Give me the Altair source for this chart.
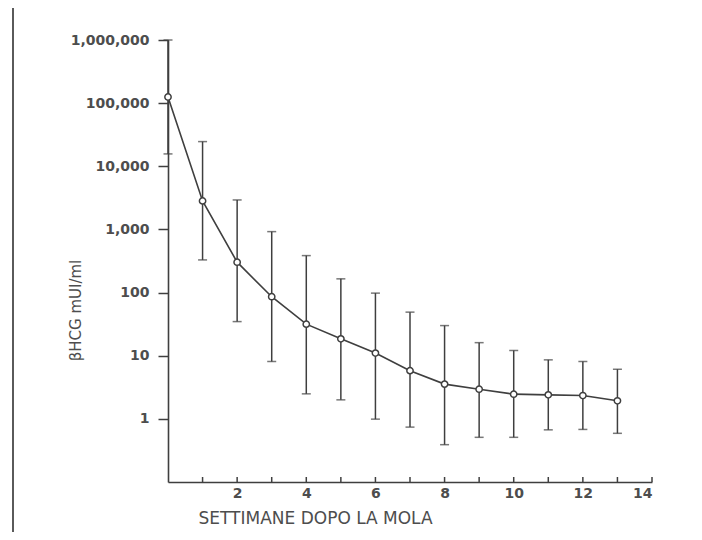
import altair as alt
import pandas as pd

weeks = list(range(0, 14))
mean_hcg = [125000, 2830, 303, 86, 31.6, 18.5, 11, 5.8, 3.55, 2.95, 2.46, 2.4, 2.34, 1.93]
upper_hcg = [1000000, 24600, 2930, 923, 385, 165, 98, 49, 30, 16.1, 12.1, 8.6, 8.1, 6.1]
lower_hcg = [15700, 329, 34.7, 8.1, 2.49, 2.0, 0.99, 0.74, 0.39, 0.51, 0.51, 0.67, 0.68, 0.59]
x_tick_weeks = list(range(1, 15))
x_label_weeks = [2, 4, 6, 8, 10, 12, 14]
y_tick_values = [1, 10, 100, 1000, 10000, 100000, 1000000]

df = pd.DataFrame({"week": weeks, "mean": mean_hcg, "upper": upper_hcg, "lower": lower_hcg})
ticks_df = pd.DataFrame({"week": x_tick_weeks})

INK = "#3f3f3f"
TEXT = "#4d4d4d"

xscale = alt.Scale(domain=[0, 14], nice=False, zero=False)
yscale = alt.Scale(type="log", domain=[0.1, 1000000], nice=False)

xaxis = alt.Axis(
    values=x_label_weeks, tickSize=0, grid=False,
    domainColor=INK, domainWidth=1.6,
    labelFont="DejaVu Sans", labelFontSize=14, labelFontWeight="bold", labelColor=TEXT,
    labelPadding=4,
    title="SETTIMANE DOPO LA MOLA", titleFont="DejaVu Sans", titleFontSize=17,
    titleFontWeight="normal", titleColor=TEXT, titleAnchor="start", titleAlign="left",
    titleX=30, titleY=36, titleBaseline="middle",
)
yaxis = alt.Axis(
    values=y_tick_values, format=",", grid=False,
    tickSize=10, tickWidth=1.5, tickColor=INK,
    domainColor=INK, domainWidth=1.6,
    labelFont="DejaVu Sans", labelFontSize=14, labelFontWeight="bold", labelColor=TEXT,
    labelPadding=9,
    title="βHCG mUI/ml", titleFont="DejaVu Sans", titleFontSize=15,
    titleFontWeight="normal", titleColor=TEXT, titleAngle=270,
    titleX=-93, titleY=270, titleBaseline="middle", titleAlign="center",
)

base = alt.Chart(df)

bars = base.mark_rule(color=INK, strokeWidth=1.5).encode(
    x=alt.X("week:Q", scale=xscale, axis=xaxis),
    y=alt.Y("lower:Q", scale=yscale, axis=yaxis),
    y2="upper:Q",
)
cap_hi = base.mark_tick(color=INK, orient="horizontal", size=9, thickness=1.5).encode(
    x="week:Q", y="upper:Q"
)
cap_lo = base.mark_tick(color=INK, orient="horizontal", size=9, thickness=1.5).encode(
    x="week:Q", y="lower:Q"
)
line = base.mark_line(color=INK, strokeWidth=1.6).encode(x="week:Q", y="mean:Q")
points = base.mark_point(shape="circle", filled=False, fill="white", fillOpacity=1,
                         color=INK, strokeWidth=1.5, size=40, opacity=1).encode(
    x="week:Q", y="mean:Q"
)
xticks = alt.Chart(ticks_df).mark_rule(color=INK, strokeWidth=1.5).encode(
    x="week:Q", y=alt.value(442), y2=alt.value(437)
)
frame = alt.Chart(ticks_df).mark_rule(color="#5a5a5a", strokeWidth=2).encode(
    x=alt.value(-155), y=alt.value(-40), y2=alt.value(500)
)

chart = alt.layer(frame, bars, cap_hi, cap_lo, line, points, xticks).properties(
    width=484, height=442,
    autosize=alt.AutoSizeParams(type="none"),
    padding={"left": 160, "top": 32, "right": 40, "bottom": 50},
    view=alt.ViewBackground(stroke="transparent"),
).configure_view(stroke="transparent").configure(background="white")

chart.save("out.html", embed_options={"renderer": "svg", "actions": False})
